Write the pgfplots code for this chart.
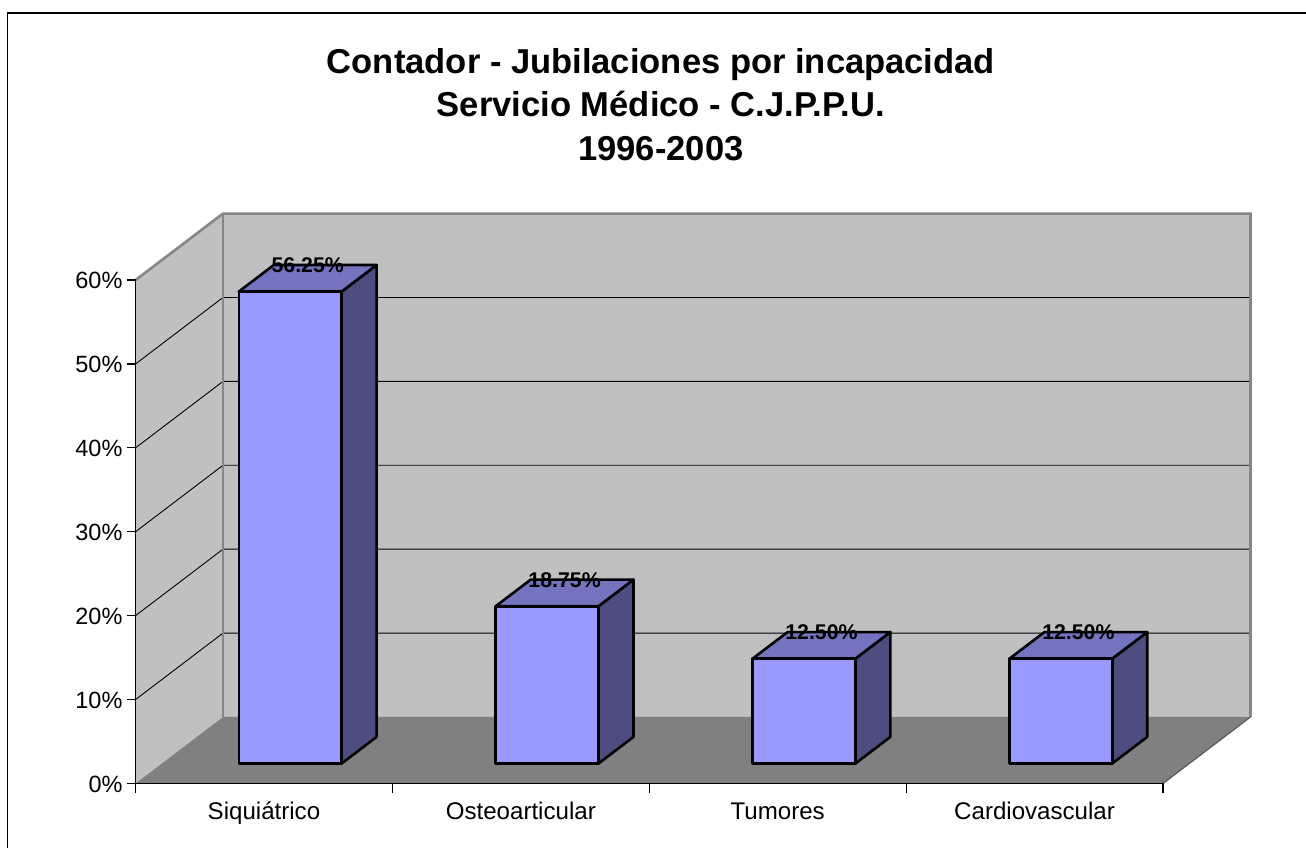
\documentclass[border=0pt]{standalone}
\usepackage{fontspec}
\setmainfont{Liberation Sans}
\usepackage{pgfplots}
\pgfplotsset{compat=1.18}
\usepackage{pgfplotstable}
\definecolor{wallc}{HTML}{C0C0C0}
\definecolor{floorc}{HTML}{808080}
\definecolor{edgec}{HTML}{868686}
\definecolor{frontc}{HTML}{9999FF}
\definecolor{topc}{HTML}{7373BF}
\definecolor{sidec}{HTML}{4D4D80}
\pgfplotstableread{
pos value
0.5 56.25
1.5 18.75
2.5 12.50
3.5 12.50
}\bardata
\newcommand\threedbar[2]{%
  \pgfmathsetmacro\xa{#1+0.4022}%
  \pgfmathsetmacro\xb{#1+0.8022}%
  \pgfmathsetmacro\xc{#1+0.9385}%
  \pgfmathsetmacro\xd{#1+0.5385}%
  \pgfmathsetmacro\yb{#2+2.378}%
  \pgfmathsetmacro\yc{#2+5.548}%
  \addplot[fill=sidec,draw=black,line width=2.6pt,line join=round] coordinates {(\xb,2.378) (\xc,5.548) (\xc,\yc) (\xb,\yb)} --cycle;
  \addplot[fill=topc,draw=black,line width=2.6pt,line join=round] coordinates {(\xa,\yb) (\xb,\yb) (\xc,\yc) (\xd,\yc)} --cycle;
  \addplot[fill=frontc,draw=black,line width=2.6pt,line join=round] coordinates {(\xa,2.378) (\xb,2.378) (\xb,\yb) (\xa,\yb)} --cycle;
}
\begin{document}
\begin{tikzpicture}[x=1pt,y=1pt]
\useasboundingbox (0,0) rectangle (1306,848);
\fill[white] (0,0) rectangle (1306,848);
\draw[black,line width=1.3pt] (7.3,0) -- (7.3,835) -- (1306,835);
\begin{axis}[
  at={(135.5pt,64.5pt)}, anchor=south west,
  x=256.875pt, y=8.39pt,
  xmin=0, xmax=4, ymin=0, ymax=60,
  clip=false, axis on top,
  axis x line=bottom, axis y line=left,
  axis line style={-,line width=1.2pt,black},
  tick style={black,line width=1.2pt},
  tick align=outside,
  ytick={0,10,20,30,40,50,60},
  yticklabels={0\%,10\%,20\%,30\%,40\%,50\%,60\%},
  xtick={0.5,1.5,2.5,3.5},
  xticklabels={Siquiátrico,Osteoarticular,Tumores,Cardiovascular},
  minor xtick={0,1,2,3,4},
  major x tick style={draw=none},
  major tick length=8.5pt, minor tick length=9.5pt,
  yticklabel style={font=\fontsize{23.5}{26}\selectfont,xshift=-1pt,yshift=-0.5pt},
  xticklabel style={font=\fontsize{24.1}{26}\selectfont,yshift=-7pt,text height=17pt,text depth=5pt},
  title={Contador - Jubilaciones por incapacidad\\Servicio Médico - C.J.P.P.U.\\1996-2003},
  title style={at={(0.5114,1.3367)},anchor=center,align=center,font=\fontsize{34.55}{43.5}\selectfont\bfseries},
]
% walls and floor
\addplot[fill=wallc,draw=none] coordinates {(0,0) (0.34064,7.926) (0.34064,67.926) (0,60)} --cycle;
\addplot[fill=wallc,draw=none] coordinates {(0.34064,7.926) (4.34064,7.926) (4.34064,67.926) (0.34064,67.926)} --cycle;
\addplot[fill=floorc,draw=none] coordinates {(0,0) (4,0) (4.34064,7.926) (0.34064,7.926)} --cycle;
% gridlines
\addplot[black,line width=0.9pt] coordinates {(0,10) (0.34064,17.926) (4.34064,17.926)};
\addplot[black,line width=0.9pt] coordinates {(0,20) (0.34064,27.926) (4.34064,27.926)};
\addplot[black,line width=0.9pt] coordinates {(0,30) (0.34064,37.926) (4.34064,37.926)};
\addplot[black,line width=0.9pt] coordinates {(0,40) (0.34064,47.926) (4.34064,47.926)};
\addplot[black,line width=0.9pt] coordinates {(0,50) (0.34064,57.926) (4.34064,57.926)};
% wall edges
\addplot[edgec,line width=2.6pt] coordinates {(0,60) (0.34064,67.926) (4.34064,67.926) (4.34064,7.926)};
\addplot[edgec,line width=2.6pt] coordinates {(0.34064,67.926) (0.34064,7.926)};
\addplot[floorc!70!black,line width=1.2pt] coordinates {(4,0) (4.34064,7.926)};
% bars
\threedbar{0}{56.25}
\threedbar{1}{18.75}
\threedbar{2}{12.50}
\threedbar{3}{12.50}
% data labels
\addplot[draw=none,point meta=y,
  nodes near coords={\pgfmathprintnumber[fixed,fixed zerofill,precision=2,assume math mode=true]{\pgfplotspointmeta}\%},
  every node near coord/.style={anchor=center,xshift=43.8pt,yshift=46.4pt,inner sep=0pt,font=\fontsize{21.3}{24}\selectfont\bfseries,text=black},
] table[x=pos,y=value] {\bardata};
\end{axis}
\end{tikzpicture}
\end{document}
